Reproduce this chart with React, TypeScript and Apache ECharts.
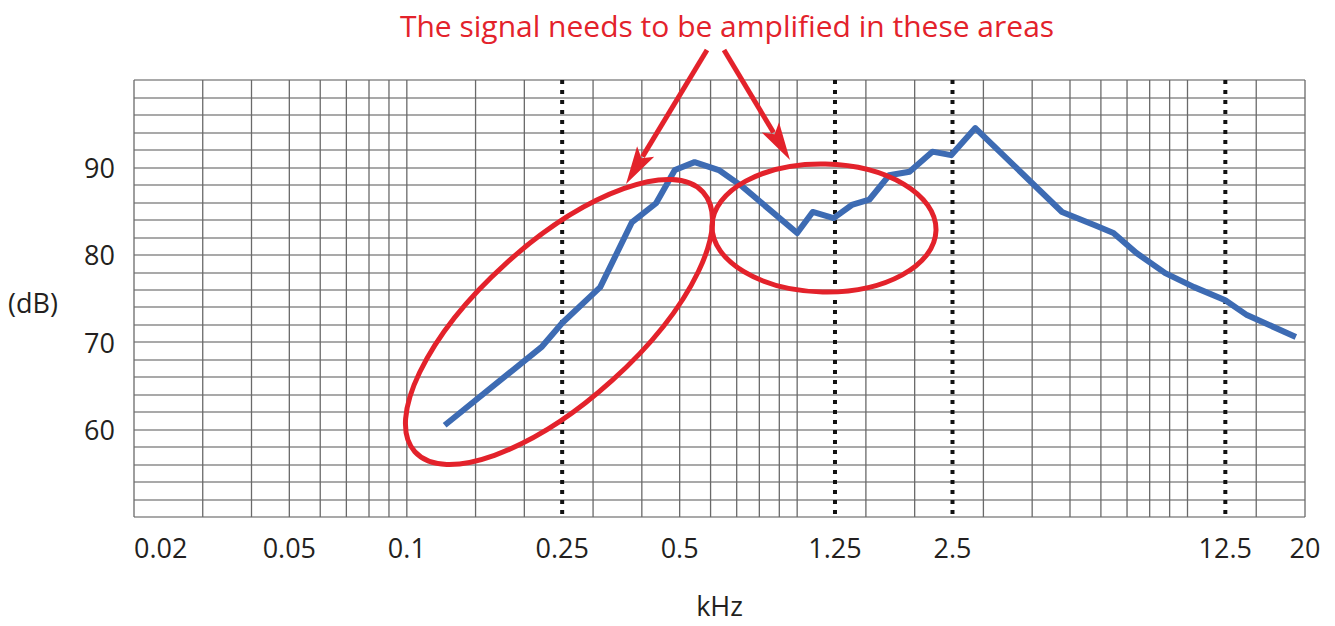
import React, { useEffect, useRef } from "react";
import * as echarts from "echarts";

// measured response curve (kHz, dB)
const freqs = [0.125, 0.222, 0.25, 0.313, 0.377, 0.435, 0.486, 0.546, 0.63, 0.724, 1.0, 1.096, 1.24, 1.38, 1.53, 1.72, 1.94, 2.22, 2.48, 2.86, 4.77, 5.77, 6.46, 7.4, 8.77, 10.4, 12.5, 14.2, 18.95];
const levels = [60.5, 69.5, 72.2, 76.3, 83.7, 85.9, 89.7, 90.6, 89.7, 87.8, 82.5, 84.9, 84.2, 85.7, 86.3, 89.1, 89.5, 91.8, 91.4, 94.5, 84.9, 83.4, 82.5, 80.2, 77.9, 76.3, 74.8, 73.1, 70.6];

// vertical grid lines (kHz)
const gridFreqs = [0.02, 0.03, 0.04, 0.05, 0.06, 0.07, 0.08, 0.09, 0.1, 0.15, 0.2, 0.3, 0.4, 0.5, 0.6, 0.7, 0.8, 0.9, 1, 1.5, 2, 3, 4, 5, 6, 7, 8, 9, 10, 15, 20];
// dotted reference lines (kHz)
const dottedFreqs = [0.25, 1.25, 2.5, 12.5];
// x tick labels
const xTickValues = [0.02, 0.05, 0.1, 0.25, 0.5, 1.25, 2.5, 12.5, 20];
const xTickLabels = ["0.02", "0.05", "0.1", "0.25", "0.5", "1.25", "2.5", "12.5", "20"];
// y tick labels
const yTickLabels = [60, 70, 80, 90];

const RED = "#e3222b";
const BLUE = "#3d6bb3";
const TXT = "#231f20";
const FONT = "Open Sans";

function arrow(x1: number, y1: number, x2: number, y2: number) {
  const dx = x2 - x1, dy = y2 - y1;
  const L = Math.hypot(dx, dy);
  const ux = dx / L, uy = dy / L;
  const hl = 38, hw = 10;
  const bx = x2 - ux * hl, by = y2 - uy * hl;
  return [
    { type: "line", z: 100, shape: { x1, y1, x2: bx + ux * 6, y2: by + uy * 6 }, style: { stroke: RED, lineWidth: 5 } },
    {
      type: "polygon", z: 100,
      shape: { points: [[x2, y2], [bx - uy * hw, by + ux * hw], [bx + ux * 8, by + uy * 8], [bx + uy * hw, by - ux * hw]] },
      style: { fill: RED },
    },
  ];
}

export default function App() {
  const ref = useRef<HTMLDivElement>(null);
  useEffect(() => {
    if (!ref.current) return;
    const chart = echarts.init(ref.current, null, { renderer: "svg" });
    const lg = (f: number) => Math.log10(f);
    const vline = (stroke: string, lineWidth: number, dash: any) => (params: any, api: any) => {
      const x = api.value(0);
      const p1 = api.coord([x, 100]);
      const p2 = api.coord([x, 50]);
      return {
        type: "line",
        shape: { x1: p1[0], y1: p1[1], x2: p2[0], y2: p2[1] },
        style: { stroke, lineWidth, lineDash: dash, lineCap: "butt" },
      };
    };
    chart.setOption({
      animation: false,
      backgroundColor: "#ffffff",
      grid: { left: 134, right: 30, top: 80, bottom: 109, containLabel: false },
      xAxis: {
        type: "value",
        min: lg(0.02),
        max: lg(20),
        name: "kHz",
        nameLocation: "middle",
        nameGap: 75,
        nameTextStyle: { fontFamily: FONT, fontSize: 27, color: TXT },
        axisLine: { show: false },
        axisTick: { show: false },
        splitLine: { show: false },
        axisLabel: {
          customValues: xTickValues.map(lg),
          formatter: (v: number) => {
            const i = xTickValues.findIndex((t) => Math.abs(lg(t) - v) < 1e-6);
            return i >= 0 ? xTickLabels[i] : "";
          },
          alignMinLabel: "left",
          margin: 17,
          fontFamily: FONT,
          fontSize: 27,
          color: TXT,
        },
      },
      yAxis: {
        type: "value",
        min: 50,
        max: 100,
        interval: 2,
        axisLine: { show: false },
        axisTick: { show: false },
        splitLine: { show: true, lineStyle: { color: "#8c8c8c", width: 1.6 } },
        axisLabel: {
          formatter: (v: number) => (yTickLabels.includes(v) ? String(v) : ""),
          margin: 19,
          padding: [6, 0, 0, 0],
          fontFamily: FONT,
          fontSize: 27,
          color: TXT,
        },
      },
      series: [
        {
          type: "custom",
          z: 1,
          silent: true,
          renderItem: vline("#6a6a6a", 1.3, null),
          data: gridFreqs.map((f) => [lg(f), 50]),
        },
        {
          type: "custom",
          z: 2,
          silent: true,
          renderItem: vline("#111111", 4, [4, 6]),
          data: dottedFreqs.map((f) => [lg(f), 50]),
        },
        {
          type: "line",
          z: 3,
          symbol: "none",
          lineStyle: { color: BLUE, width: 6, join: "round" },
          data: freqs.map((f, i) => [lg(f), levels[i]]),
        },
      ],
      graphic: [
        {
          type: "text", z: 100, x: 727, y: 25,
          style: {
            text: "The signal needs to be amplified in these areas",
            fontFamily: FONT, fontSize: 30, fill: RED,
            textAlign: "center", textVerticalAlign: "middle",
          },
        },
        {
          type: "text", z: 100, x: 8, y: 302,
          style: { text: "(dB)", fontFamily: FONT, fontSize: 27, fill: TXT, textVerticalAlign: "middle" },
        },
        {
          type: "ellipse", z: 100, x: 559, y: 322, rotation: (42 * Math.PI) / 180,
          shape: { cx: 0, cy: 0, rx: 194, ry: 79 },
          style: { fill: "none", stroke: RED, lineWidth: 5 },
        },
        {
          type: "ellipse", z: 100, x: 824, y: 228, rotation: -0.02,
          shape: { cx: 0, cy: 0, rx: 112, ry: 64 },
          style: { fill: "none", stroke: RED, lineWidth: 5 },
        },
        ...arrow(707, 50, 626, 184),
        ...arrow(724, 50, 790, 160),
      ],
    });
    return () => chart.dispose();
  }, []);
  return <div ref={ref} style={{ position: "fixed", left: 0, top: 0, width: 1335, height: 626 }} />;
}
